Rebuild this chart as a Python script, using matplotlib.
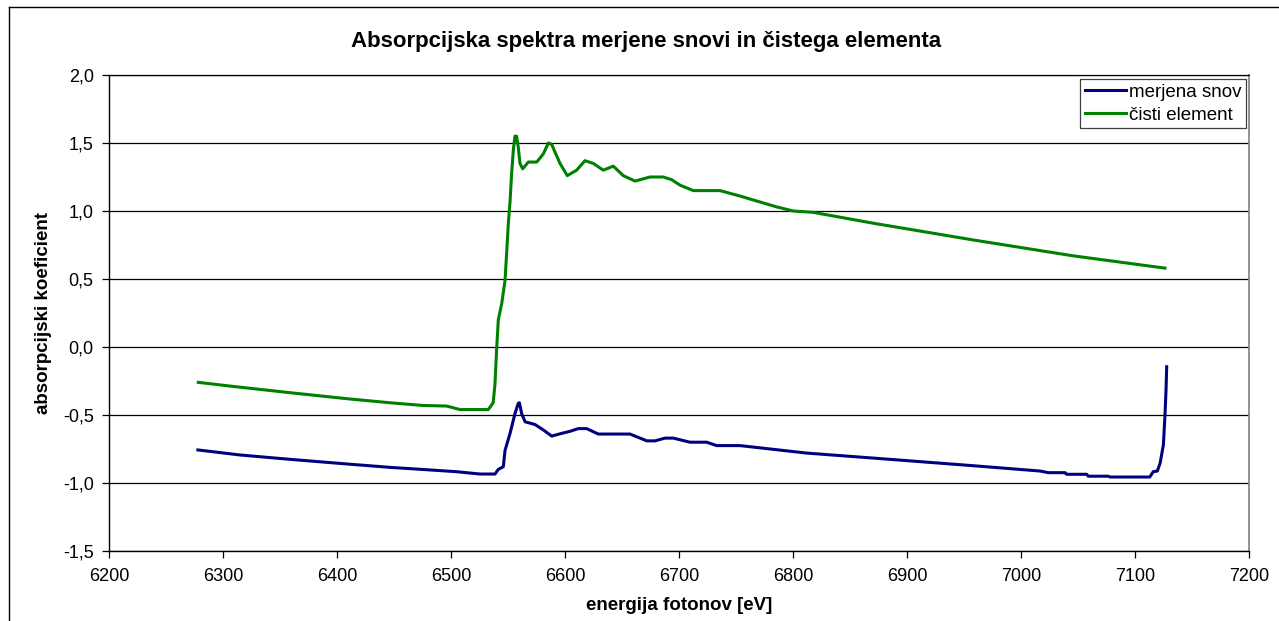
import matplotlib
matplotlib.use("Agg")
import matplotlib.pyplot as plt
from matplotlib.ticker import FuncFormatter, MultipleLocator

plt.rcParams['font.family'] = ['Liberation Sans', 'DejaVu Sans']

# merjena snov (measured sample)
snov_x = [6278, 6315, 6358.8, 6408.5, 6446.5, 6481.6, 6505, 6525.4, 6538.6, 6541.5,
          6545.9, 6547.4, 6551.8, 6556.1, 6559, 6560, 6562, 6565, 6573.7, 6581,
          6588.3, 6597.1, 6604.4, 6611.7, 6619, 6629.2, 6657, 6671.7, 6679, 6687.7,
          6695, 6709.6, 6724.3, 6733, 6753.5, 6812, 6885, 6958.2, 7016.7, 7024,
          7038.6, 7040, 7057.6, 7059, 7076.6, 7078, 7113, 7116, 7119.6, 7122,
          7124.9, 7126.3, 7127.2, 7127.8]
snov_y = [-0.757, -0.794, -0.826, -0.86, -0.885, -0.904, -0.917, -0.934, -0.934, -0.90,
          -0.88, -0.76, -0.635, -0.49, -0.414, -0.41, -0.49, -0.55, -0.57, -0.61,
          -0.655, -0.635, -0.62, -0.60, -0.60, -0.64, -0.64, -0.69, -0.69, -0.67,
          -0.67, -0.70, -0.70, -0.725, -0.725, -0.78, -0.826, -0.873, -0.912, -0.924,
          -0.924, -0.936, -0.936, -0.95, -0.95, -0.956, -0.956, -0.917, -0.912, -0.855,
          -0.72, -0.50, -0.32, -0.145]

# cisti element (pure element)
elem_x = [6278.3, 6309, 6358.8, 6408.5, 6446.5, 6475.7, 6496, 6507.9, 6532.7, 6537,
          6538.6, 6540, 6541.5, 6544.5, 6547.4, 6548.8, 6550.3, 6551.8, 6553.2, 6554.7,
          6556.1, 6557.5, 6559, 6560.5, 6562.9, 6567.8, 6575.2, 6581, 6585.4, 6588.3,
          6595.6, 6602, 6610.2, 6617.5, 6624.8, 6633.6, 6642.4, 6651.1, 6661.4, 6674.6,
          6686.2, 6693.6, 6700.9, 6712.6, 6736, 6753.5, 6785.7, 6800.3, 6817.8, 6870.5,
          6958.2, 7046, 7126.3]
elem_y = [-0.26, -0.29, -0.336, -0.38, -0.41, -0.43, -0.434, -0.46, -0.46, -0.41,
          -0.27, -0.02, 0.20, 0.32, 0.49, 0.69, 0.91, 1.07, 1.28, 1.45,
          1.55, 1.55, 1.47, 1.35, 1.31, 1.36, 1.36, 1.42, 1.50, 1.49,
          1.35, 1.26, 1.30, 1.37, 1.35, 1.30, 1.33, 1.26, 1.22, 1.25,
          1.25, 1.23, 1.19, 1.15, 1.15, 1.11, 1.03, 1.00, 0.99, 0.91,
          0.787, 0.67, 0.58]

W, H = 1279, 621
fig = plt.figure(figsize=(W / 100, H / 100), dpi=100)
ax = fig.add_axes([109 / W, 1 - 551 / H, (1249 - 109) / W, (551 - 75) / H])

ax.plot(snov_x, snov_y, color='#000080', lw=2.2, label='merjena snov', solid_joinstyle='round')
ax.plot(elem_x, elem_y, color='#008000', lw=2.2, label='čisti element', solid_joinstyle='round')

ax.set_xlim(6200, 7200)
ax.set_ylim(-1.5, 2.0)
ax.xaxis.set_major_locator(MultipleLocator(100))
ax.yaxis.set_major_locator(MultipleLocator(0.5))
ax.yaxis.set_major_formatter(FuncFormatter(lambda v, p: f"{v:.1f}".replace('.', ',')))
ax.grid(axis='y', color='black', lw=0.9)
ax.set_axisbelow(True)
ax.tick_params(direction='out', length=5, width=0.9, labelsize=13, color='black')
ax.tick_params(axis='x', pad=7)
ax.tick_params(axis='y', pad=6)

ax.spines['left'].set_linewidth(1.0)
ax.spines['bottom'].set_linewidth(1.0)
ax.spines['top'].set_linewidth(0.9)
ax.spines['right'].set_color('#808080')
ax.spines['right'].set_linewidth(1.2)

ax.set_xlabel('energija fotonov [eV]', fontsize=13.5, fontweight='bold', labelpad=9)
ax.set_ylabel('absorpcijski koeficient', fontsize=13.5, fontweight='bold', labelpad=8)

fig.text(0.505, 1 - 42 / H, 'Absorpcijska spektra merjene snovi in čistega elementa',
         ha='center', va='center', fontsize=16, fontweight='bold')

leg = ax.legend(loc='upper right', bbox_to_anchor=(1246 / W, 1 - 79 / H),
                bbox_transform=fig.transFigure, fontsize=13.5, frameon=True,
                fancybox=False, framealpha=1, edgecolor='#404040',
                handlelength=2.2, handletextpad=0.15, borderpad=0.25,
                labelspacing=0.3, borderaxespad=0)
leg.get_frame().set_linewidth(0.9)

# outer chart border
fig.add_artist(plt.Line2D([9 / W, 9 / W], [0, 1 - 7 / H], color='black', lw=1.0))
fig.add_artist(plt.Line2D([9 / W, 1], [1 - 7 / H, 1 - 7 / H], color='black', lw=1.0))

fig.savefig('out.png', dpi=100)
